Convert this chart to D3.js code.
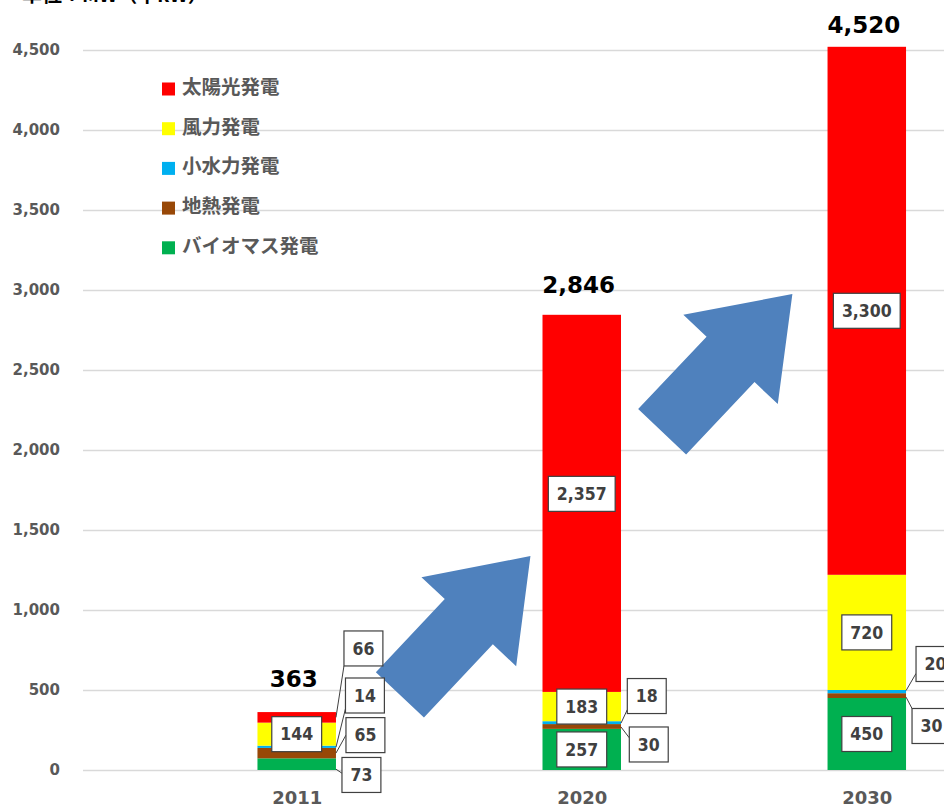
<!DOCTYPE html>
<html>
<head>
<meta charset="utf-8">
<script src="https://cdn.jsdelivr.net/npm/d3@7"></script>
<style>
  body { margin: 0; background: #fff; }
  svg { display: block; }
</style>
</head>
<body>
<svg id="chart" width="944" height="805"></svg>
<script>
// Renewable capacity by source (unit: MW = thousand kW)
const years = ["2011", "2020", "2030"];
const biomass    = [73, 257, 450];
const geothermal = [65, 30, 30];
const hydro      = [14, 18, 20];
const wind       = [144, 183, 720];
const solar      = [66, 2357, 3300];
const totals     = [363, 2846, 4520];
const yTicks = [0, 500, 1000, 1500, 2000, 2500, 3000, 3500, 4000, 4500];

// stacking order, bottom to top
const keys = ["biomass", "geothermal", "hydro", "wind", "solar"];
const names = {
  solar: "太陽光発電", wind: "風力発電", hydro: "小水力発電",
  geothermal: "地熱発電", biomass: "バイオマス発電"
};
const colors = {
  solar: "#FF0000", wind: "#FFFF00", hydro: "#00B0F0",
  geothermal: "#984807", biomass: "#00B050"
};
const legendOrder = ["solar", "wind", "hydro", "geothermal", "biomass"];

const table = years.map((y, i) => ({
  year: y, biomass: biomass[i], geothermal: geothermal[i],
  hydro: hydro[i], wind: wind[i], solar: solar[i]
}));

const svg = d3.select("#chart");
const NUM_FONT = "'DejaVu Sans', Verdana, sans-serif";
const LABEL_FONT = "'DejaVu Sans Condensed', 'DejaVu Sans', sans-serif";
const JP_FONT = "'Noto Sans CJK JP', sans-serif";

const y = d3.scaleLinear().domain([0, 4500]).range([770, 50]);
const x = d3.scalePoint().domain(years).range([154.2, 1009.3]).padding(0.5);
const barW = 78.5;

// unit caption (partly above the top edge)
svg.append("text")
  .attr("x", 22).attr("y", 2)
  .attr("font-family", JP_FONT).attr("font-weight", 700)
  .attr("font-size", 20).attr("fill", "#000")
  .text("単位：MW（千kW）");

// gridlines
const grid = svg.append("g").attr("transform", "translate(83,0)")
  .call(d3.axisRight(y).tickValues(yTicks).tickSize(861).tickFormat(""));
grid.select(".domain").remove();
grid.selectAll("line").attr("stroke", "#D9D9D9").attr("stroke-width", 1.4);

// y axis labels
const yAxis = svg.append("g").attr("transform", "translate(83,0)")
  .call(d3.axisLeft(y).tickValues(yTicks).tickSize(0).tickPadding(23).tickFormat(d3.format(",")));
yAxis.select(".domain").remove();
yAxis.selectAll("text")
  .attr("font-family", NUM_FONT).attr("font-weight", 700)
  .attr("font-size", 15).attr("fill", "#595959").attr("dy", "0.27em");

// x axis labels
const xAxis = svg.append("g").attr("transform", "translate(0,770)")
  .call(d3.axisBottom(x).tickSize(0).tickPadding(21));
xAxis.select(".domain").remove();
xAxis.selectAll("text")
  .attr("font-family", NUM_FONT).attr("font-weight", 700)
  .attr("font-size", 18).attr("fill", "#595959");

// stacked bars
const stacked = d3.stack().keys(keys)(table);
const layers = svg.append("g").selectAll("g").data(stacked).join("g")
  .attr("fill", d => colors[d.key]);
layers.selectAll("rect").data(d => d).join("rect")
  .attr("x", d => x(d.data.year) - barW / 2)
  .attr("width", barW)
  .attr("y", d => y(d[1]))
  .attr("height", d => y(d[0]) - y(d[1]));

// direction arrows between the bars: tail and tip given as category + fraction of step, value
const arrows = [
  { from: ["2011", 0.362, 469], to: ["2020", -0.180, 1337] },
  { from: ["2020", 0.282, 2114], to: ["2030", -0.261, 2975] }
];
const step = x.step();
function pt(p) { return [x(p[0]) + p[1] * step, y(p[2])]; }
arrows.forEach(a => {
  const [x0, y0] = pt(a.from), [x1, y1] = pt(a.to);
  const len = Math.hypot(x1 - x0, y1 - y0);
  const ang = Math.atan2(y1 - y0, x1 - x0) * 180 / Math.PI;
  const shaft = 33, head = 65, headStart = len - 90;
  const shape = [[0, -shaft], [headStart, -shaft], [headStart, -head], [len, 0],
                 [headStart, head], [headStart, shaft], [0, shaft]];
  svg.append("path")
    .attr("transform", `translate(${x0},${y0}) rotate(${ang})`)
    .attr("d", d3.line()(shape) + "Z")
    .attr("fill", "#4F81BD");
});

// helper for boxed data labels
const fmt = d3.format(",");
const labelG = svg.append("g");
function boxedLabel(cx, cy, value, anchorLeft) {
  const g = labelG.append("g");
  const rect = g.append("rect");
  const t = g.append("text")
    .attr("font-family", LABEL_FONT).attr("font-weight", 700)
    .attr("font-size", 17.5).attr("fill", "#404040")
    .attr("text-anchor", "middle").attr("dy", "0.36em")
    .text(fmt(value));
  const w = t.node().getComputedTextLength() + 17, h = 35;
  const left = anchorLeft == null ? cx - w / 2 : anchorLeft;
  t.attr("x", left + w / 2).attr("y", cy);
  rect.attr("x", left).attr("y", cy - h / 2).attr("width", w).attr("height", h)
    .attr("fill", "#fff").attr("stroke", "#404040").attr("stroke-width", 1.2);
  return { left, top: cy - h / 2, h, g };
}
function segOf(key, year) {
  const s = stacked.find(l => l.key === key);
  const d = s[years.indexOf(year)];
  return { top: y(d[1]), bottom: y(d[0]), mid: (y(d[0]) + y(d[1])) / 2, value: d.data[key] };
}

// labels centred inside the segments (dy nudges a label off centre)
const insideLabels = [
  { year: "2011", key: "wind", dy: 0 },
  { year: "2020", key: "biomass", dy: 0 },
  { year: "2020", key: "wind", dy: 0 },
  { year: "2020", key: "solar", dy: -9.5 },
  { year: "2030", key: "biomass", dy: 0 },
  { year: "2030", key: "wind", dy: 0 },
  { year: "2030", key: "solar", dy: 0 }
];
insideLabels.forEach(l => {
  const s = segOf(l.key, l.year);
  boxedLabel(x(l.year), s.mid + l.dy, s.value);
});

// labels set beside the bar with leader lines
const callouts = [
  { year: "2011", key: "solar", dx: 8, dy: -68.9, attach: 1, endDy: 0 },
  { year: "2011", key: "hydro", dx: 9.5, dy: -51.3, attach: 0.88, endDy: 0.5 },
  { year: "2011", key: "geothermal", dx: 10, dy: -18, attach: 0.5, endDy: 0 },
  { year: "2011", key: "biomass", dx: 6, dy: 10.8, attach: 0.45, endDy: 5 },
  { year: "2020", key: "hydro", dx: 6.3, dy: -26.6, attach: 0.89, endDy: 0.5 },
  { year: "2020", key: "geothermal", dx: 8.3, dy: 18, attach: 0.31, endDy: 0.5 },
  { year: "2030", key: "hydro", dx: 10, dy: -27.6, attach: 0.77, endDy: -1 },
  { year: "2030", key: "geothermal", dx: 6, dy: 30.4, attach: 0, endDy: 1.5 }
];
callouts.forEach(c => {
  const s = segOf(c.key, c.year);
  const barRight = x(c.year) + barW / 2;
  const b = boxedLabel(null, s.mid + c.dy, s.value, barRight + c.dx);
  labelG.insert("line", ":first-child")
    .attr("x1", barRight).attr("y1", s.mid + c.endDy)
    .attr("x2", b.left).attr("y2", b.top + b.h * c.attach)
    .attr("stroke", "#404040").attr("stroke-width", 1);
});

// totals above each bar
const totalOffsets = [24.5, 21.6, 13.8];
svg.append("g").selectAll("text").data(years).join("text")
  .attr("x", d => x(d) - 3)
  .attr("y", (d, i) => y(totals[i]) - totalOffsets[i])
  .attr("text-anchor", "middle")
  .attr("font-family", NUM_FONT).attr("font-weight", 700)
  .attr("font-size", 23).attr("fill", "#000")
  .text((d, i) => fmt(totals[i]));

// legend
const legend = svg.append("g").selectAll("g").data(legendOrder).join("g")
  .attr("transform", (d, i) => `translate(162,${89 + i * 39.7})`);
legend.append("rect")
  .attr("x", 0).attr("y", -6.5).attr("width", 13).attr("height", 13)
  .attr("fill", d => colors[d]);
legend.append("text")
  .attr("x", 20).attr("y", 5)
  .attr("font-family", JP_FONT).attr("font-weight", 700)
  .attr("font-size", 19.5).attr("fill", "#595959")
  .text(d => names[d]);
</script>
</body>
</html>
